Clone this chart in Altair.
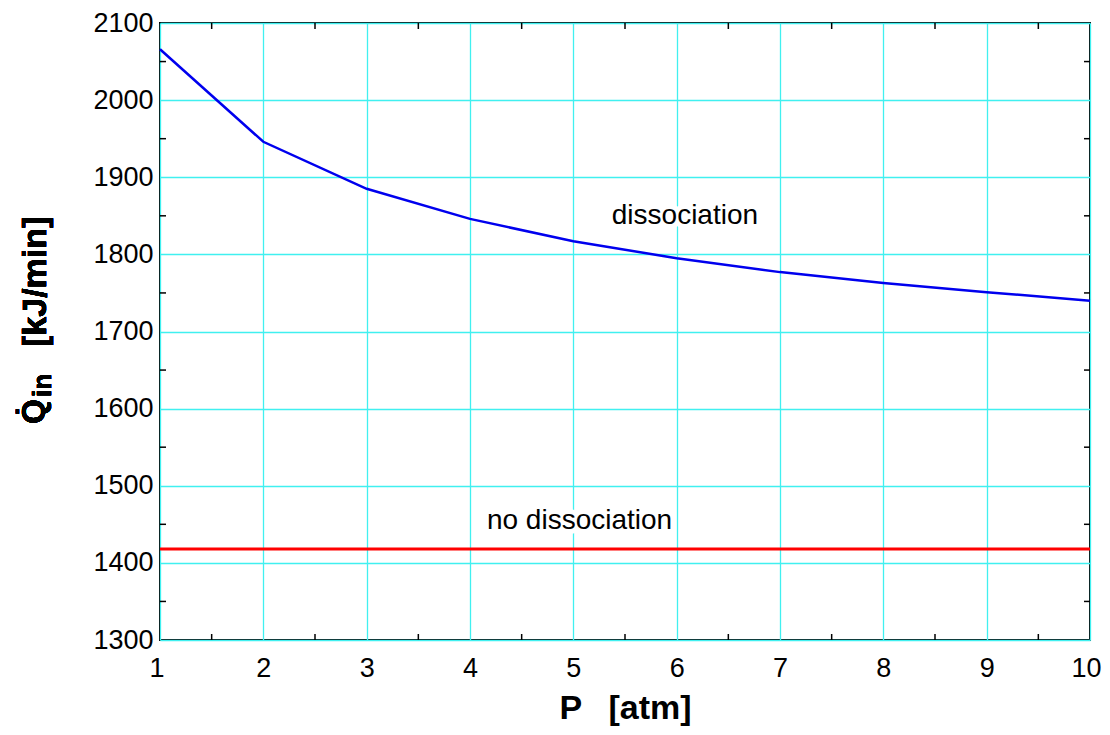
import altair as alt
import pandas as pd

P = [1, 2, 3, 4, 5, 6, 7, 8, 9, 10]
q_diss = [2066, 1946, 1885, 1846, 1817, 1795, 1777, 1763, 1751, 1740]
q_nodiss = [1418] * 10
x_minor = [1.5, 2.5, 3.5, 4.5, 5.5, 6.5, 7.5, 8.5, 9.5]
y_minor = [1350, 1450, 1550, 1650, 1750, 1850, 1950, 2050]
lab_text = ["dissociation", "no dissociation"]
lab_x = [6.08, 5.06]
lab_y = [1850, 1454]

W, H = 930, 617
FONT = "Liberation Sans"

df = pd.DataFrame({"P": P, "diss": q_diss, "nodiss": q_nodiss})
lab = pd.DataFrame({"t": lab_text, "x": lab_x, "y": lab_y})
xm = pd.DataFrame({"x": x_minor})
ym = pd.DataFrame({"y": y_minor})

xs = alt.Scale(domain=[1, 10], nice=False, zero=False)
ys = alt.Scale(domain=[1300, 2100], nice=False, zero=False)

xax = alt.Axis(values=P, title="P\u00a0\u2002[atm]", grid=True, format="d",
               labelFlush=True, labelFlushOffset=11)
yax = alt.Axis(values=list(range(1300, 2101, 100)), title=None,
               grid=True, format="d", labelFlush=False)

base = alt.Chart(df)
blue = base.mark_line(color="#0000ee", strokeWidth=2.5).encode(
    x=alt.X("P:Q", scale=xs, axis=xax),
    y=alt.Y("diss:Q", scale=ys, axis=yax),
)
red = base.mark_line(color="#ff0000", strokeWidth=3).encode(
    x=alt.X("P:Q", scale=xs),
    y=alt.Y("nodiss:Q", scale=ys),
)

halo = alt.Chart(lab).mark_text(font=FONT, fontSize=28, color="white", stroke="white",
                                strokeWidth=10, baseline="middle").encode(
    x=alt.X("x:Q", scale=xs), y=alt.Y("y:Q", scale=ys), text="t:N")
txt = alt.Chart(lab).mark_text(font=FONT, fontSize=28, color="black", baseline="middle").encode(
    x=alt.X("x:Q", scale=xs), y=alt.Y("y:Q", scale=ys), text="t:N")

# y-axis title built from pieces (Q-dot, subscript "in", unit)
yt_q = alt.Chart(df).mark_text(text="Q\u0307", font=FONT, fontSize=32, fontWeight="bold",
                               angle=270, align="left", baseline="alphabetic", color="black").encode(
    x=alt.value(-116), y=alt.value(401))
yt_in = alt.Chart(df).mark_text(text="in", font=FONT, fontSize=26, fontWeight="bold",
                                angle=270, align="left", baseline="alphabetic", color="black").encode(
    x=alt.value(-109), y=alt.value(374))
yt_u = alt.Chart(df).mark_text(text="[kJ/min]", font=FONT, fontSize=34, fontWeight="bold",
                               angle=270, align="left", baseline="alphabetic", color="black").encode(
    x=alt.value(-114), y=alt.value(324))

tb = alt.Chart(xm).mark_rule(color="black", strokeWidth=1.5).encode(
    x=alt.X("x:Q", scale=xs), y=alt.value(H), y2=alt.value(H - 6))
tt = alt.Chart(xm).mark_rule(color="black", strokeWidth=1.5).encode(
    x=alt.X("x:Q", scale=xs), y=alt.value(0), y2=alt.value(6))
tl = alt.Chart(ym).mark_rule(color="black", strokeWidth=1.5).encode(
    y=alt.Y("y:Q", scale=ys), x=alt.value(0), x2=alt.value(6))
tr = alt.Chart(ym).mark_rule(color="black", strokeWidth=1.5).encode(
    y=alt.Y("y:Q", scale=ys), x=alt.value(W), x2=alt.value(W - 6))

chart = alt.layer(blue, red, halo, txt, tb, tt, tl, tr, yt_q, yt_in, yt_u).properties(
    width=W, height=H,
    autosize=alt.AutoSizeParams(type="none"),
    padding={"left": 152, "top": 15, "right": 12, "bottom": 87},
).configure_view(stroke="black", strokeWidth=2).configure_axis(
    gridColor="#40f0f0", gridWidth=1.3, gridOpacity=1,
    domain=False, ticks=False,
    labelFont=FONT, labelFontSize=27, labelColor="black",
    titleFont=FONT, titleFontSize=34, titleFontWeight="bold", titleColor="black",
).configure_axisX(titlePadding=10, labelPadding=15).configure_axisY(labelPadding=7)

chart.save("out.html", embed_options={"renderer": "svg", "actions": False})
